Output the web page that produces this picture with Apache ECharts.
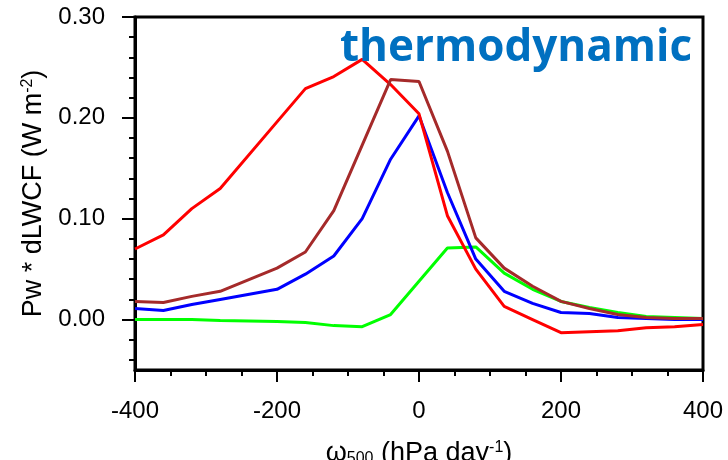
<!DOCTYPE html>
<html><head><meta charset="utf-8">
<script src="https://cdn.jsdelivr.net/npm/echarts@6/dist/echarts.min.js"></script>
<style>html,body{margin:0;padding:0;background:#fff}#c{width:728px;height:460px}</style>
</head><body><div id="c"></div>
<script>
const omega = [-400,-360,-320,-280,-200,-160,-120,-80,-40,0,40,80,120,160,200,240,280,320,360,400];
const redVals   = [0.070,0.084,0.110,0.130,0.196,0.229,0.241,0.258,0.233,0.204,0.103,0.050,0.013,0.000,-0.013,-0.012,-0.011,-0.008,-0.007,-0.005];
const blueVals  = [0.011,0.009,0.015,0.020,0.030,0.045,0.063,0.100,0.159,0.202,0.126,0.060,0.028,0.016,0.007,0.006,0.002,0.001,0.000,0.000];
const brownVals = [0.018,0.017,0.023,0.028,0.051,0.067,0.108,0.173,0.238,0.236,0.167,0.081,0.051,0.033,0.018,0.011,0.005,0.002,0.001,0.001];
const greenVals = [0.000,0.000,0.000,-0.001,-0.002,-0.003,-0.006,-0.007,0.005,0.038,0.071,0.072,0.046,0.030,0.018,0.012,0.007,0.003,0.002,0.001];
const yMajorTicks = [0, 0.1, 0.2, 0.3];
const yMinorTicks = [-0.04,-0.02,0.02,0.04,0.06,0.08,0.12,0.14,0.16,0.18,0.22,0.24,0.26,0.28];
const panelLabel = 'thermodynamic';
const yName = 'Pw * dLWCF (W m{sup|-2})';
const xName = '{w|ω}{sub|500} (hPa day{sup|-1})';

const FONT = 'Liberation Sans';
const pair = arr => omega.map((x, i) => [x, arr[i]]);
const mk = (name, color, arr) => ({
  name, type: 'line', data: pair(arr), showSymbol: false, symbol: 'none',
  lineStyle: { color, width: 3 }, itemStyle: { color }, animation: false, z: 3
});

const chart = echarts.init(document.getElementById('c'), null, { renderer: 'canvas' });
chart.setOption({
  animation: false,
  backgroundColor: '#fff',
  grid: { left: 135, right: 25, top: 17, bottom: 90, show: true, borderColor: '#000', borderWidth: 3,
    backgroundColor: 'transparent', containLabel: false, outerBoundsMode: 'none' },
  xAxis: {
    type: 'value', min: -400, max: 400, interval: 200,
    axisLine: { show: true, onZero: false, lineStyle: { color: '#000', width: 3 } },
    axisTick: { show: true, length: 12, lineStyle: { color: '#000', width: 2 } },
    minorTick: { show: true, splitNumber: 4, length: 6, lineStyle: { color: '#000', width: 2 } },
    splitLine: { show: false }, minorSplitLine: { show: false },
    axisLabel: { color: '#000', fontSize: 24, fontFamily: FONT, margin: 29 },
    name: xName, nameLocation: 'middle', nameGap: 70,
    nameTextStyle: { color: '#000', fontSize: 27, fontFamily: FONT,
      rich: {
        w: { fontSize: 27, fontFamily: FONT, color: '#000' },
        sub: { fontSize: 16, fontFamily: FONT, color: '#000', verticalAlign: 'bottom', padding: [10, 0, 0, 0] },
        sup: { fontSize: 16, fontFamily: FONT, color: '#000', verticalAlign: 'top', padding: [0, 0, 10, 0] }
      } }
  },
  yAxis: [{
    type: 'value', min: -0.05, max: 0.3,
    axisLine: { show: true, onZero: false, lineStyle: { color: '#000', width: 3 } },
    axisTick: { show: true, length: 13, customValues: yMajorTicks, lineStyle: { color: '#000', width: 2 } },
    splitLine: { show: false },
    axisLabel: { color: '#000', fontSize: 24, fontFamily: FONT, margin: 30, customValues: yMajorTicks,
      formatter: v => v.toFixed(2) },
    name: yName, nameLocation: 'middle', nameGap: 88, nameRotate: 90,
    nameTextStyle: { color: '#000', fontSize: 27, fontFamily: FONT,
      rich: {
        sup: { fontSize: 16, fontFamily: FONT, color: '#000', verticalAlign: 'top', padding: [0, 0, 10, 0] }
      } }
  }, {
    type: 'value', min: -0.05, max: 0.3, position: 'left', offset: 0,
    axisLine: { show: false, onZero: false },
    axisTick: { show: true, length: 6, customValues: yMinorTicks, lineStyle: { color: '#000', width: 2 } },
    axisLabel: { show: false }, splitLine: { show: false }
  }],
  graphic: [{
    type: 'text', left: 340, top: 26, z: 10,
    style: { text: panelLabel, fill: '#0070C0', font: 'bold 44px "Open Sans"' }
  }],
  series: [
    mk('green', '#00FF00', greenVals),
    mk('blue', '#0000FF', blueVals),
    mk('red', '#FF0000', redVals),
    mk('brown', '#A52A2A', brownVals)
  ]
});
</script>
</body></html>
